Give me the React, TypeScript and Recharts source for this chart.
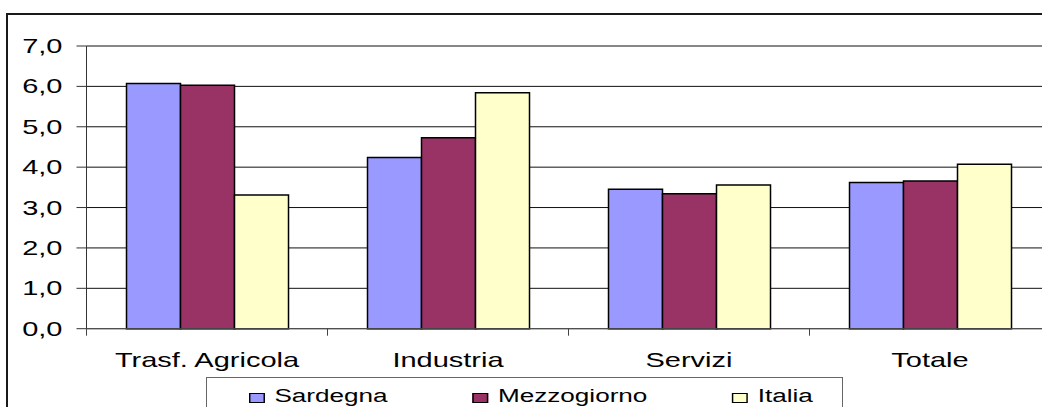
import React from "react";
import { BarChart, Bar, XAxis, YAxis, CartesianGrid } from "recharts";

const categories = ["Trasf. Agricola", "Industria", "Servizi", "Totale"];
const sardegna = [6.07, 4.24, 3.45, 3.62];
const mezzogiorno = [6.03, 4.73, 3.34, 3.66];
const italia = [3.31, 5.84, 3.56, 4.07];
const yTicks = [0, 1, 2, 3, 4, 5, 6, 7];

const seriesNames = ["Sardegna", "Mezzogiorno", "Italia"];
const seriesColors = ["#9999FF", "#993366", "#FFFFCC"];
const seriesKeys = ["sardegna", "mezzogiorno", "italia"];

const data = categories.map((c, i) => ({
  name: c,
  sardegna: sardegna[i],
  mezzogiorno: mezzogiorno[i],
  italia: italia[i],
}));

const SX = 1.45;
const FONT = "'Liberation Sans', Arial, sans-serif";

const XTick = (props: any) => {
  const { x, y, payload, index, visibleTicksCount } = props;
  const half = payload && payload.offset ? payload.offset : 120.5;
  const last = index === (visibleTicksCount ?? categories.length) - 1;
  return (
    <g>
      <line x1={x - half} x2={x - half} y1={y} y2={y + 7} stroke="#444" strokeWidth={1} />
      {last && <line x1={x + half} x2={x + half} y1={y} y2={y + 7} stroke="#444" strokeWidth={1} />}
      <text
        transform={`translate(${x},${y + 38}) scale(${SX},1)`}
        textAnchor="middle"
        fontSize={20}
        fontFamily={FONT}
        fill="#000"
      >
        {payload.value}
      </text>
    </g>
  );
};

const YTick = (props: any) => {
  const { x, y, payload } = props;
  return (
    <text
      transform={`translate(${x},${y + 7}) scale(${SX},1)`}
      textAnchor="end"
      fontSize={20}
      fontFamily={FONT}
      fill="#000"
    >
      {Number(payload.value).toFixed(1).replace(".", ",")}
    </text>
  );
};

export default function App() {
  return (
    <div
      style={{
        position: "fixed",
        left: 0,
        top: 0,
        width: 1042,
        height: 407,
        overflow: "hidden",
        background: "#fff",
      }}
    >
      <div
        style={{
          position: "absolute",
          left: 6,
          top: 13,
          width: 1200,
          height: 600,
          border: "2px solid #1a1a1a",
        }}
      />
      <div style={{ position: "absolute", left: 0, top: 0 }}>
        <BarChart
          width={1100}
          height={440}
          data={data}
          margin={{ top: 46, right: 49.5, left: 0, bottom: 0 }}
          barCategoryGap="16.6%"
          barGap={0}
        >
          <CartesianGrid horizontal vertical={false} stroke="#111" strokeWidth={1} />
          <XAxis
            dataKey="name"
            tickLine={false}
            axisLine={{ stroke: "#555" }}
            tickSize={0}
            tickMargin={0}
            interval={0}
            height={111.3}
            tick={<XTick />}
          />
          <YAxis
            width={86.5}
            domain={[0, 7]}
            ticks={yTicks}
            interval={0}
            tickSize={10}
            tickMargin={14}
            tickLine={{ stroke: "#333" }}
            axisLine={{ stroke: "#333" }}
            tick={<YTick />}
          />
          {seriesKeys.map((k, i) => (
            <Bar
              key={k}
              dataKey={k}
              name={seriesNames[i]}
              fill={seriesColors[i]}
              stroke="#000"
              strokeWidth={1.5}
              isAnimationActive={false}
            />
          ))}
        </BarChart>
      </div>
      <div
        style={{
          position: "absolute",
          left: 206,
          top: 377,
          width: 635,
          height: 60,
          border: "1.5px solid #666",
          background: "#fff",
        }}
      />
      <div
        style={{
          position: "absolute",
          left: 249,
          top: 386,
          display: "flex",
          alignItems: "center",
          transform: `scaleX(${SX})`,
          transformOrigin: "left top",
          fontFamily: FONT,
          fontSize: 18,
          lineHeight: "20px",
          whiteSpace: "nowrap",
          color: "#000",
        }}
      >
        {seriesNames.map((n, i) => (
          <div
            key={n}
            style={{
              display: "flex",
              alignItems: "center",
              marginRight: i < seriesNames.length - 1 ? 85 / SX : 0,
            }}
          >
            <div
              style={{
                width: 14 / SX - 1.5 / SX,
                height: 8,
                background: seriesColors[i],
                border: "1px solid #000",
                borderLeftWidth: 1 / SX,
                borderRightWidth: 1 / SX,
                marginRight: 10 / SX,
                marginTop: 3,
              }}
            />
            <span>{n}</span>
          </div>
        ))}
      </div>
    </div>
  );
}
